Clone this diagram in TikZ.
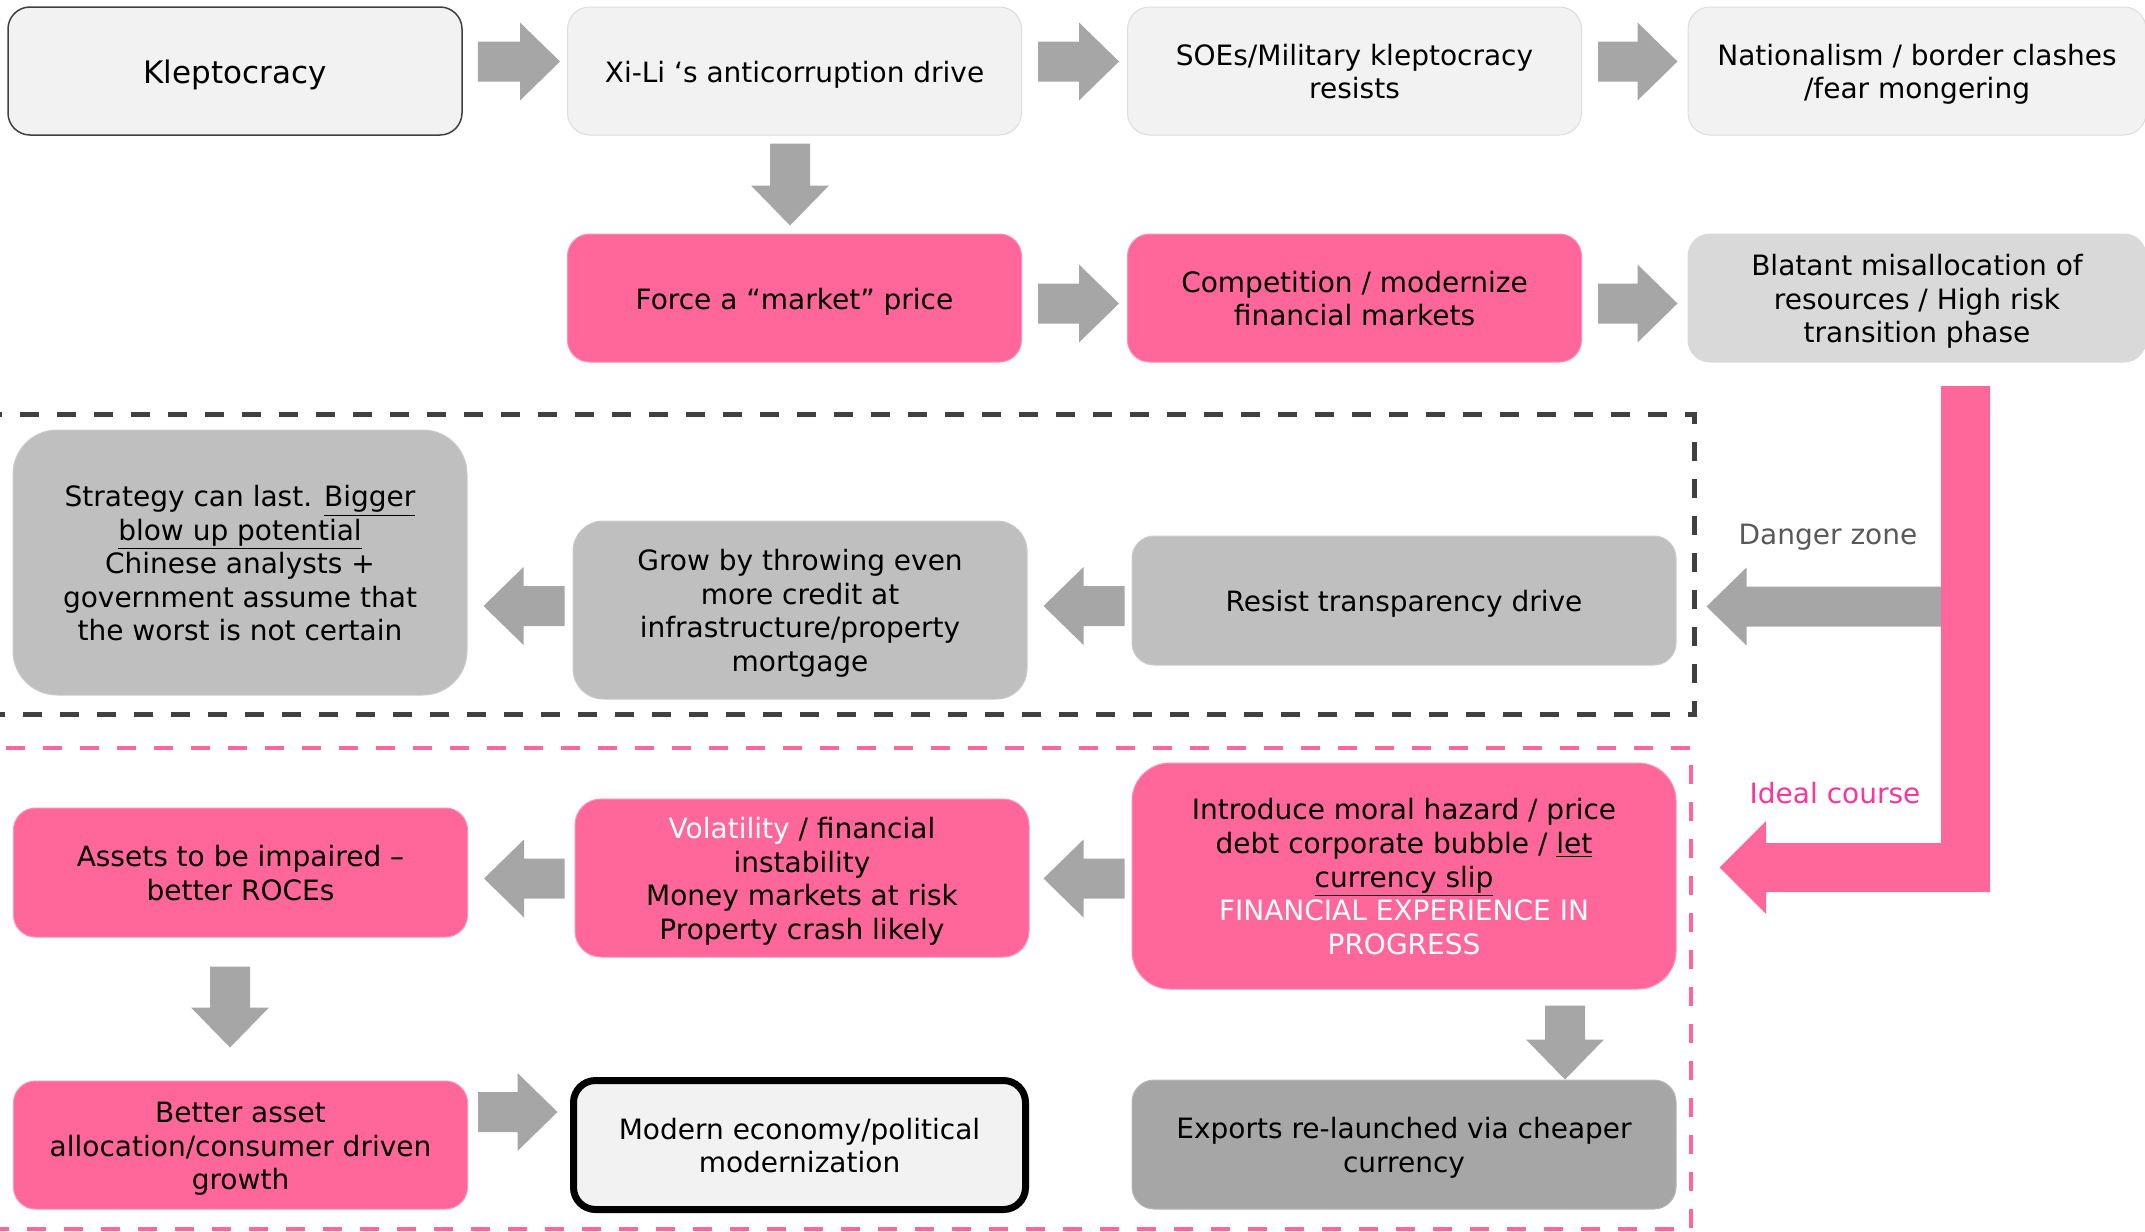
\documentclass[tikz,border=0pt]{standalone}
\usepackage{fontspec}
\setmainfont{DejaVu Sans}
\usetikzlibrary{calc}

\definecolor{boxlight}{HTML}{F2F2F2}
\definecolor{boxedge}{HTML}{DDDDDD}
\definecolor{pinkfill}{HTML}{FF6699}
\definecolor{pinkedge}{HTML}{FF8FB3}
\definecolor{midgray}{HTML}{D9D9D9}
\definecolor{dangerfill}{HTML}{BFBFBF}
\definecolor{darkfill}{HTML}{A6A6A6}
\definecolor{arrowgray}{HTML}{A6A6A6}
\definecolor{dashdark}{HTML}{404040}
\definecolor{labelgray}{HTML}{595959}
\definecolor{labelpink}{HTML}{FF3399}

% strut giving the first line of a box a fixed ascent
\newcommand\ls{\rule[-0.21em]{0pt}{1.215em}}

% block arrow from tail point #2 to tip point #3
\newcommand\fatarrow[3][arrowgray]{%
  \fill[#1] let \p1=($(#3)!20pt!(#2)$) in
    ($(#2)!10pt!90:(#3)$) -- ($(\p1)!10pt!90:(#3)$) -- ($(\p1)!19.5pt!90:(#3)$)
    -- (#3) -- ($(\p1)!19.5pt!-90:(#3)$) -- ($(\p1)!10pt!-90:(#3)$)
    -- ($(#2)!10pt!-90:(#3)$) -- cycle;}

\begin{document}
\begin{tikzpicture}[x=0.5pt,y=-0.5pt,
  box/.style={rectangle, rounded corners=11pt, align=center, inner sep=0pt,
    minimum width=227pt, minimum height=64pt, line width=0.5pt,
    font=\fontsize{14pt}{16.8pt}\selectfont, text depth=2.94pt},
  lightbox/.style={box, fill=boxlight, draw=boxedge},
  pinkbox/.style={box, fill=pinkfill, draw=pinkedge},
  greybox/.style={box, fill=midgray, draw=midgray},
  dangerbox/.style={box, fill=dangerfill, draw=dangerfill!80!white},
  darkbox/.style={box, fill=darkfill, draw=darkfill!80!white},
  zonelabel/.style={font=\fontsize{14pt}{16.8pt}\selectfont, inner sep=0pt},
  zoneline/.style={line width=2.5pt, dash pattern=on 9.5pt off 9pt}
]
\useasboundingbox (0,0) rectangle (2145,1231);

% zone frames
\draw[zoneline, dashdark] (-10,414) rectangle (1694,714);
\draw[zoneline, pinkfill, line width=2pt] (-10,748) rectangle (1691,1229);

% top rows
\node[lightbox, draw=dashdark, line width=0.75pt,
      font=\fontsize{15.5pt}{18pt}\selectfont, text depth=3.25pt] (klep) at (235,71) {\ls Kleptocracy};
\node[lightbox] (xili) at (794.5,71) {\ls Xi-Li ‘s anticorruption drive};
\node[lightbox] (soes) at (1354.5,71) {\ls SOEs/Military kleptocracy\\resists};
\node[lightbox, minimum width=229pt] (nat) at (1917,71) {\ls Nationalism / border clashes\\/fear mongering};

\node[pinkbox] (force) at (794.5,298) {\ls Force a “market” price};
\node[pinkbox] (comp) at (1354.5,298) {\ls Competition / modernize\\financial markets};
\node[greybox, minimum width=229pt] (blat) at (1917,298) {\ls Blatant misallocation of\\resources / High risk\\transition phase};

% danger zone
\node[dangerbox, minimum height=132.5pt, rounded corners=22pt] (strat) at (240,562.5)
  {\ls Strategy can last. \underline{Bigger}\\\underline{blow up potential}\\Chinese analysts +\\government assume that\\the worst is not certain};
\node[dangerbox, minimum height=89pt, rounded corners=15pt] (grow) at (800,610)
  {\ls Grow by throwing even\\more credit at\\infrastructure/property\\mortgage};
\node[dangerbox, minimum width=272pt, minimum height=64.5pt] (resist) at (1404,600.5)
  {\ls Resist transparency drive};

% ideal course zone
\node[pinkbox, minimum width=272pt, minimum height=113pt, rounded corners=19pt] (intro) at (1404,876)
  {\ls Introduce moral hazard / price\\debt corporate bubble / \underline{let}\\\underline{currency slip}\\
   \textcolor{white}{FINANCIAL EXPERIENCE IN}\\\textcolor{white}{PROGRESS}};
\node[pinkbox, minimum height=79pt, rounded corners=13pt] (vol) at (802,878)
  {\ls\textcolor{white}{Volatility} / financial\\instability\\Money markets at risk\\Property crash likely};
\node[pinkbox, minimum height=64.5pt] (assets) at (240.5,872.5) {\ls Assets to be impaired –\\better ROCEs};
\node[pinkbox] (better) at (240.5,1145) {\ls Better asset\\allocation/consumer driven\\growth};
\node[box, fill=boxlight, draw=black, line width=3.5pt, minimum width=226pt, minimum height=64.5pt] (modern)
  at (799.5,1145) {\ls Modern economy/political\\modernization};
\node[darkbox, minimum width=272pt, minimum height=64.5pt] (exports) at (1404,1144.5)
  {\ls Exports re-launched via cheaper\\currency};

% zone labels
\node[zonelabel, text=labelgray] (dz) at (1828,537) {Danger zone};
\node[zonelabel, text=labelpink] (ic) at (1835,793) {Ideal course};

% connector end points
\coordinate (a1s) at ($(klep.east)+(15,-9.5)$);   \coordinate (a1e) at ($(xili.west)+(-7,-9.5)$);
\coordinate (a2s) at ($(xili.east)+(16,-9.5)$);   \coordinate (a2e) at ($(soes.west)+(-8,-9.5)$);
\coordinate (a3s) at ($(soes.east)+(16,-9.5)$);   \coordinate (a3e) at ($(nat.west)+(-10,-9.5)$);
\coordinate (a4s) at ($(xili.south)+(-4.5,8)$);   \coordinate (a4e) at ($(force.north)+(-4.5,-8)$);
\coordinate (a5s) at ($(force.east)+(16,5.5)$);   \coordinate (a5e) at ($(comp.west)+(-8,5.5)$);
\coordinate (a6s) at ($(comp.east)+(16,5.5)$);    \coordinate (a6e) at ($(blat.west)+(-10,5.5)$);
\coordinate (a7s) at ($(resist.west)+(-7,5.5)$);  \coordinate (a7e) at ($(grow.east)+(16,-4)$);
\coordinate (a8s) at ($(grow.west)+(-8,-4)$);     \coordinate (a8e) at ($(strat.east)+(16,43.5)$);
\coordinate (a9s) at (1941,606.5);                \coordinate (a9e) at ($(resist.east)+(30,6)$);
\coordinate (b1s) at ($(intro.west)+(-7,2.5)$);   \coordinate (b1e) at ($(vol.east)+(14,0.5)$);
\coordinate (b2s) at ($(vol.west)+(-10,0.5)$);    \coordinate (b2e) at ($(assets.east)+(16,6)$);
\coordinate (b3s) at ($(assets.south)+(-10.5,29)$); \coordinate (b3e) at ($(better.north)+(-10.5,-33)$);
\coordinate (b4s) at ($(better.east)+(10,-33)$);  \coordinate (b4e) at ($(modern.west)+(-12.5,-33)$);
\coordinate (b5s) at ($(intro.south)+(161,16)$);  \coordinate (b5e) at ($(exports.north)+(161,0)$);

% block arrows
\fatarrow{a1s}{a1e} \fatarrow{a2s}{a2e} \fatarrow{a3s}{a3e}
\fatarrow{a4s}{a4e} \fatarrow{a5s}{a5e} \fatarrow{a6s}{a6e}
\fatarrow{a7s}{a7e} \fatarrow{a8s}{a8e} \fatarrow{a9s}{a9e}
\fatarrow{b1s}{b1e} \fatarrow{b2s}{b2e} \fatarrow{b3s}{b3e}
\fatarrow{b4s}{b4e} \fatarrow{b5s}{b5e}

% ideal course bent arrow
\fill[pinkfill] (1941,386) -- (1990,386) -- (1990,892) -- (1766,892) -- (1766,914)
  -- ($(intro.east)+(43,-8.5)$) -- (1766,821) -- (1766,843) -- (1941,843) -- cycle;
\end{tikzpicture}
\end{document}
